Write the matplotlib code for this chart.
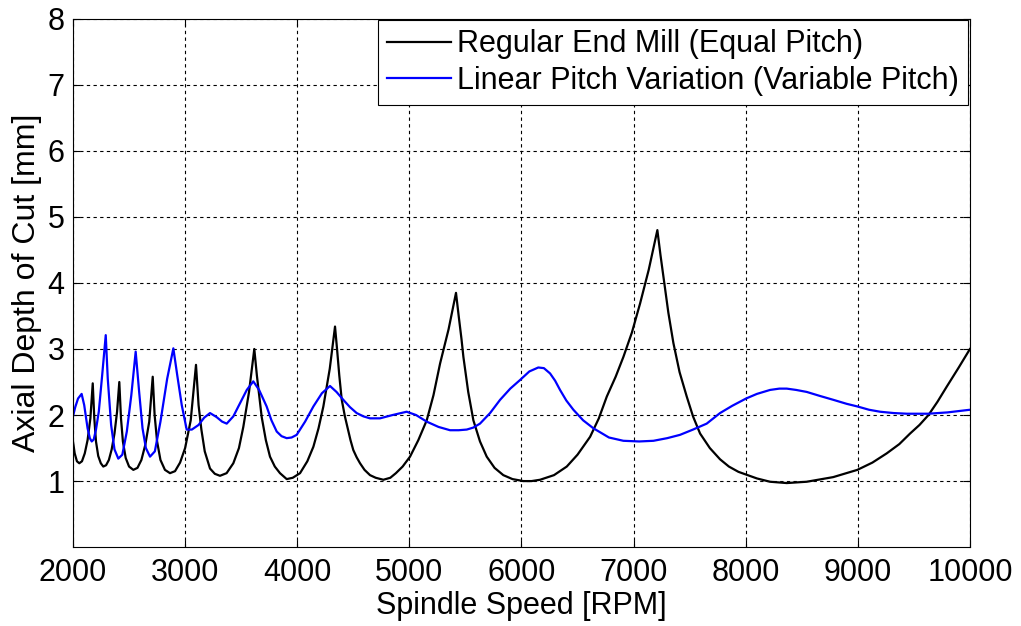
import matplotlib
matplotlib.use('Agg')
import matplotlib.pyplot as plt

# Regular end mill (equal pitch) stability lobes
rpm_equal = [2000, 2015, 2035, 2056, 2080, 2105, 2130, 2155, 2176,
             2190, 2205, 2225, 2248, 2270, 2295, 2320, 2345, 2370, 2393, 2413,
             2428, 2445, 2470, 2500, 2538, 2575, 2610, 2645, 2680, 2711,
             2728, 2750, 2780, 2820, 2865, 2910, 2955, 3000, 3050, 3097,
             3120, 3145, 3175, 3222, 3265, 3311, 3370, 3430, 3480, 3519, 3570, 3617,
             3640, 3683, 3720, 3757, 3800, 3846, 3906, 3960, 4025, 4090, 4144,
             4190, 4233, 4290, 4337,
             4355, 4375, 4397, 4425, 4450, 4475, 4500, 4530, 4560, 4600, 4649,
             4700, 4768, 4830, 4880, 4940, 5006, 5080, 5155, 5215, 5274, 5350, 5416,
             5440, 5465, 5482, 5525, 5571, 5630, 5690, 5760, 5838, 5920, 6017,
             6090, 6166, 6290, 6404, 6500, 6612, 6690, 6761, 6840, 6909, 6985,
             7058, 7135, 7212,
             7240, 7266, 7310, 7355, 7410, 7474, 7530, 7593, 7680, 7771, 7850,
             7935, 8100, 8217, 8366, 8544, 8780, 8996, 9130, 9258, 9370, 9466,
             9550, 9630, 9710, 9793, 9900, 10000]
doc_equal = [1.60, 1.42, 1.30, 1.27, 1.30, 1.42, 1.62, 1.95, 2.48,
             1.95, 1.60, 1.38, 1.27, 1.22, 1.24, 1.32, 1.48, 1.72, 2.05, 2.50,
             1.95, 1.60, 1.35, 1.22, 1.17, 1.20, 1.32, 1.55, 1.90, 2.58,
             2.00, 1.60, 1.32, 1.17, 1.12, 1.15, 1.28, 1.50, 1.92, 2.76,
             2.15, 1.78, 1.45, 1.19, 1.11, 1.08, 1.12, 1.27, 1.50, 1.82, 2.35, 3.00,
             2.60, 1.97, 1.62, 1.37, 1.22, 1.12, 1.03, 1.05, 1.12, 1.30, 1.52,
             1.80, 2.13, 2.70, 3.34,
             3.00, 2.60, 2.23, 1.98, 1.80, 1.62, 1.47, 1.36, 1.27, 1.17, 1.09,
             1.05, 1.02, 1.05, 1.12, 1.22, 1.37, 1.62, 1.92, 2.30, 2.78, 3.30, 3.85,
             3.50, 3.15, 2.88, 2.35, 1.92, 1.60, 1.37, 1.20, 1.09, 1.03, 1.00,
             1.00, 1.02, 1.09, 1.22, 1.40, 1.67, 1.95, 2.28, 2.58, 2.88, 3.25,
             3.69, 4.20, 4.80,
             4.42, 4.10, 3.55, 3.09, 2.65, 2.28, 1.98, 1.72, 1.50, 1.33, 1.22,
             1.14, 1.04, 0.99, 0.97, 0.99, 1.06, 1.17, 1.28, 1.42, 1.56, 1.72,
             1.85, 2.00, 2.20, 2.43, 2.72, 3.00]

# Linear pitch variation (variable pitch)
rpm_var = [2000, 2020, 2045, 2077, 2100, 2130, 2150, 2167, 2185, 2205, 2230,
           2260, 2292, 2310, 2340, 2370, 2404, 2440, 2480, 2520, 2559, 2590,
           2620, 2650, 2687, 2730, 2780, 2840, 2895, 2930, 2970, 3014,
           3060, 3120, 3170, 3222, 3280, 3330, 3371, 3430, 3490, 3550,
           3608, 3660, 3727, 3770, 3817, 3860, 3906, 3950, 3995, 4070, 4144,
           4220, 4292, 4350, 4411, 4470, 4530, 4590, 4649, 4738, 4850, 4976,
           5060, 5155, 5260, 5363, 5440, 5512, 5570, 5630, 5720, 5809, 5900,
           5987, 6070, 6150, 6200, 6255, 6300, 6344, 6400, 6463, 6550, 6641,
           6780, 6909, 7050, 7177, 7300, 7414, 7530, 7652, 7771, 7880, 8003,
           8100, 8217, 8300, 8366, 8450, 8544, 8660, 8782, 8900, 8996, 9100,
           9199, 9320, 9437, 9630, 9800, 10000]
doc_var = [1.98, 2.12, 2.25, 2.32, 2.15, 1.80, 1.65, 1.60, 1.63, 1.78, 2.05,
           2.60, 3.21, 2.55, 1.85, 1.48, 1.34, 1.40, 1.75, 2.30, 2.96, 2.35,
           1.80, 1.50, 1.37, 1.45, 1.90, 2.55, 3.01, 2.60, 2.15, 1.78,
           1.78, 1.85, 1.96, 2.03, 1.97, 1.90, 1.87, 1.98, 2.18, 2.38,
           2.51, 2.38, 2.13, 1.92, 1.75, 1.68, 1.65, 1.66, 1.70, 1.90, 2.13,
           2.33, 2.44, 2.35, 2.23, 2.12, 2.03, 1.98, 1.95, 1.95, 2.00, 2.05,
           2.00, 1.90, 1.82, 1.77, 1.77, 1.78, 1.81, 1.87, 2.03, 2.23, 2.40,
           2.53, 2.66, 2.72, 2.71, 2.63, 2.52, 2.38, 2.22, 2.08, 1.92, 1.80,
           1.66, 1.61, 1.60, 1.61, 1.65, 1.70, 1.78, 1.87, 2.03, 2.14, 2.25,
           2.32, 2.38, 2.40, 2.40, 2.38, 2.35, 2.29, 2.23, 2.17, 2.13, 2.08,
           2.05, 2.03, 2.02, 2.02, 2.04, 2.08]

x_ticks = [2000, 3000, 4000, 5000, 6000, 7000, 8000, 9000, 10000]
y_ticks = [1, 2, 3, 4, 5, 6, 7, 8]

plt.rcParams['font.family'] = ['Liberation Sans', 'DejaVu Sans']
plt.rcParams['font.size'] = 22

fig = plt.figure(figsize=(10.21, 6.26), dpi=100)
ax = fig.add_axes([0.0715, 0.126, 0.8785, 0.844])

ax.plot(rpm_equal, doc_equal, color='black', lw=1.6,
        label='Regular End Mill (Equal Pitch)')
ax.plot(rpm_var, doc_var, color='#0000ff', lw=1.6,
        label='Linear Pitch Variation (Variable Pitch)')

ax.set_xlim(2000, 10000)
ax.set_ylim(0, 8)
ax.set_xticks(x_ticks)
ax.set_yticks(y_ticks)
ax.grid(True, color='black', linestyle=(0, (3, 3)), linewidth=0.8)
ax.tick_params(direction='in', top=True, right=True, length=5, width=0.8)
ax.tick_params(axis='x', pad=8)
ax.tick_params(axis='y', pad=6)
for sp in ax.spines.values():
    sp.set_linewidth(0.8)

ax.set_xlabel('Spindle Speed [RPM]', labelpad=2)
ax.set_ylabel('Axial Depth of Cut [mm]', labelpad=4, fontsize=23)

leg = ax.legend(loc='upper right', fancybox=False, framealpha=1,
                edgecolor='black', handlelength=2.1, handletextpad=0.2,
                borderpad=0.3, labelspacing=0.2, borderaxespad=0.05)
leg.get_frame().set_linewidth(0.8)

fig.savefig('out.png', dpi=100)
